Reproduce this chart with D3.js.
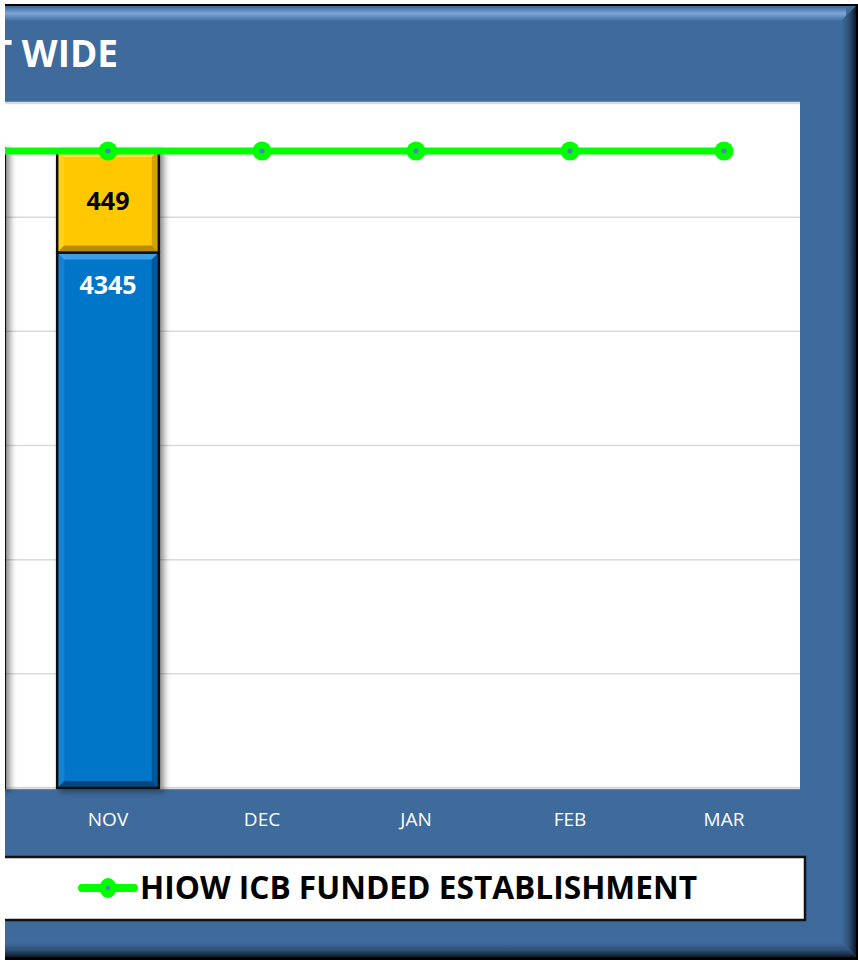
<!DOCTYPE html>
<html>
<head>
<meta charset="utf-8">
<script src="https://cdn.jsdelivr.net/npm/d3@7"></script>
<style>
  body { margin: 0; background: #fff; }
  svg { display: block; }
</style>
</head>
<body>
<div id="chart"></div>
<script>
// Chart data (only the right part of the chart is in view)
const months = ["APR", "MAY", "JUN", "JUL", "AUG", "SEP", "OCT", "NOV", "DEC", "JAN", "FEB", "MAR"];
// blue segment (bottom) and yellow segment (top) of the stacked bars
const bluePart   = [null, null, null, null, null, null, 4330, 4345, null, null, null, null];
const yellowPart = [null, null, null, null, null, null, 470, 449, null, null, null, null];
// green line: funded establishment
const establishment = [4790, 4790, 4790, 4790, 4790, 4790, 4790, 4790, 4790, 4790, 4790, 4790];
const yTicks = [2000, 2500, 3000, 3500, 4000, 4500, 5000];
const legendLabel = "HIOW ICB FUNDED ESTABLISHMENT";
const titleText = "TRUST WIDE";

const width = 858, height = 963;
const plot = { left: -1047, right: 801, top: 103, bottom: 788 };
const viewLeft = 5; // the picture is cut off left of this

const svg = d3.select("#chart").append("svg")
  .attr("width", width)
  .attr("height", height);

const defs = svg.append("defs");

// gradients for the bevelled frame
function linGrad(id, x1, y1, x2, y2, stops) {
  const g = defs.append("linearGradient").attr("id", id)
    .attr("x1", x1).attr("y1", y1).attr("x2", x2).attr("y2", y2);
  stops.forEach(s => g.append("stop").attr("offset", s[0]).attr("stop-color", s[1]));
}
linGrad("topEdge", 0, 0, 0, 1, [[0, "#3e6a9c"], [0.45, "#7aa6d8"], [1, "#3e6a9c"]]);
linGrad("rightEdge", 0, 0, 1, 0, [[0, "#3e6a9c"], [0.5, "#2e5078"], [1, "#0f1a28"]]);
linGrad("bottomEdge", 0, 0, 0, 1, [[0, "#3e6a9c"], [0.5, "#2e5078"], [1, "#0f1a28"]]);

const shadow = defs.append("filter").attr("id", "barShadow")
  .attr("x", "-20%").attr("y", "-5%").attr("width", "150%").attr("height", "115%");
shadow.append("feDropShadow").attr("dx", 4).attr("dy", 2).attr("stdDeviation", 3)
  .attr("flood-color", "#000").attr("flood-opacity", 0.45);

defs.append("clipPath").attr("id", "clipLeft")
  .append("rect").attr("x", viewLeft).attr("y", 0).attr("width", width).attr("height", height);

const root = svg.append("g").attr("clip-path", "url(#clipLeft)");

// Outer frame
root.append("rect").attr("x", 0).attr("y", 4).attr("width", 858).attr("height", 956).attr("fill", "#000");
root.append("rect").attr("x", 0).attr("y", 6).attr("width", 856).attr("height", 951).attr("fill", "#3e6a9c");
root.append("rect").attr("x", 0).attr("y", 7).attr("width", 846).attr("height", 14).attr("fill", "url(#topEdge)");
root.append("polygon").attr("points", "842,20 856,6 856,957 842,943").attr("fill", "url(#rightEdge)");
root.append("polygon").attr("points", "0,943 842,943 856,957 0,957").attr("fill", "url(#bottomEdge)");

// Title (its left part is cut off, as in the picture)
root.append("text")
  .attr("x", 118).attr("y", 67)
  .attr("text-anchor", "end")
  .attr("fill", "#fff")
  .style("font-family", "'Open Sans', sans-serif")
  .style("font-weight", "bold")
  .style("font-size", "37px")
  .text(titleText);

// Scales
const x = d3.scaleBand().domain(months).range([plot.left, plot.right]).padding(0);
const y = d3.scaleLinear().domain([yTicks[0], yTicks[yTicks.length - 1]]).range([plot.bottom, plot.top]);
const barW = x.bandwidth() * 0.66;
const cx = m => x(m) + x.bandwidth() / 2;
const inView = m => cx(m) > viewLeft;

// Plot area
root.append("rect")
  .attr("x", plot.left).attr("y", plot.top)
  .attr("width", plot.right - plot.left - 1).attr("height", plot.bottom - plot.top)
  .attr("fill", "#fff");

// Gridlines
root.append("g")
  .selectAll("line")
  .data(yTicks)
  .join("line")
    .attr("x1", plot.left).attr("x2", plot.right - 1)
    .attr("y1", d => y(d)).attr("y2", d => y(d))
    .attr("stroke", "#d9d9d9")
    .attr("stroke-width", d => (d === yTicks[0] || d === yTicks[yTicks.length - 1]) ? 2.5 : 1.5);

// Stacked bars with a bevel look
const stacks = months.map((m, i) => ({ m, blue: bluePart[i], yellow: yellowPart[i] }))
  .filter(d => d.blue != null);

function bevelBar(g, x0, yTop, yBot, base, light, dark) {
  const w = barW, b = 7, h = yBot - yTop;
  g.append("rect").attr("x", x0).attr("y", yTop).attr("width", w).attr("height", h)
    .attr("fill", base);
  g.append("polygon")
    .attr("points", `${x0},${yTop} ${x0 + w},${yTop} ${x0 + w - b},${yTop + b} ${x0 + b},${yTop + b}`)
    .attr("fill", light);
  g.append("polygon")
    .attr("points", `${x0},${yBot} ${x0 + w},${yBot} ${x0 + w - b},${yBot - b} ${x0 + b},${yBot - b}`)
    .attr("fill", dark);
  g.append("polygon")
    .attr("points", `${x0 + w},${yTop} ${x0 + w},${yBot} ${x0 + w - b},${yBot - b} ${x0 + w - b},${yTop + b}`)
    .attr("fill", dark).attr("opacity", 0.6);
  g.append("polygon")
    .attr("points", `${x0},${yTop} ${x0},${yBot} ${x0 + b},${yBot - b} ${x0 + b},${yTop + b}`)
    .attr("fill", light).attr("opacity", 0.35);
  g.append("rect").attr("x", x0).attr("y", yTop).attr("width", w).attr("height", h)
    .attr("fill", "none").attr("stroke", "#111").attr("stroke-width", 2.5);
}

stacks.forEach(d => {
  const g = root.append("g").attr("filter", "url(#barShadow)");
  const x0 = cx(d.m) - barW / 2;
  const yMid = y(d.blue);
  const yTop = y(d.blue + d.yellow);
  bevelBar(g, x0, yMid, plot.bottom, "#0676c8", "#3c9ee6", "#03467e");
  bevelBar(g, x0, yTop, yMid, "#ffc800", "#ffe14d", "#b88c00");

  // data labels only where the bar centre is in view
  if (!inView(d.m)) return;
  root.append("text")
    .attr("x", cx(d.m)).attr("y", (yTop + yMid) / 2 + 9)
    .attr("text-anchor", "middle").attr("fill", "#000")
    .style("font-family", "'Open Sans', sans-serif").style("font-weight", "bold").style("font-size", "25px")
    .text(d.yellow);
  root.append("text")
    .attr("x", cx(d.m)).attr("y", yMid + 41)
    .attr("text-anchor", "middle").attr("fill", "#fff")
    .style("font-family", "'Open Sans', sans-serif").style("font-weight", "bold").style("font-size", "25px")
    .text(d.blue);
});

// Establishment line
const estData = months.map((m, i) => ({ m, v: establishment[i] }));
const line = d3.line().x(d => cx(d.m)).y(d => y(d.v));
root.append("path")
  .datum(estData)
  .attr("d", line)
  .attr("fill", "none")
  .attr("stroke", "#00ff00")
  .attr("stroke-width", 7);
root.append("g")
  .selectAll("circle")
  .data(estData)
  .join("circle")
    .attr("cx", d => cx(d.m)).attr("cy", d => y(d.v))
    .attr("r", 9.5).attr("fill", "#00ff00");
root.append("g")
  .selectAll("circle")
  .data(estData)
  .join("circle")
    .attr("cx", d => cx(d.m)).attr("cy", d => y(d.v))
    .attr("r", 2.5).attr("fill", "#4f81bd");

// X axis labels (only the months in view)
const xAxis = d3.axisBottom(x).tickSize(0).tickPadding(0)
  .tickValues(months.filter(inView));
const gx = root.append("g")
  .attr("transform", `translate(0,${plot.bottom + 38})`)
  .call(xAxis);
gx.select(".domain").remove();
gx.selectAll("text")
  .attr("fill", "#fff")
  .attr("dy", 0)
  .style("font-family", "'Open Sans', sans-serif")
  .style("font-size", "19px");

// Legend
root.append("rect")
  .attr("x", -300).attr("y", 857).attr("width", 1105).attr("height", 63)
  .attr("fill", "#fff").attr("stroke", "#111").attr("stroke-width", 2.5);
root.append("line")
  .attr("x1", 82).attr("x2", 134).attr("y1", 888).attr("y2", 888)
  .attr("stroke", "#00ff00").attr("stroke-width", 8).attr("stroke-linecap", "round");
root.append("ellipse")
  .attr("cx", 108).attr("cy", 888).attr("rx", 8.5).attr("ry", 10)
  .attr("fill", "#00ff00");
root.append("circle")
  .attr("cx", 108).attr("cy", 888).attr("r", 2.2).attr("fill", "#4f81bd");
root.append("text")
  .attr("x", 140).attr("y", 899)
  .attr("textLength", 557).attr("lengthAdjust", "spacingAndGlyphs")
  .attr("fill", "#000")
  .style("font-family", "'Open Sans', sans-serif").style("font-weight", "bold").style("font-size", "32px")
  .text(legendLabel);
</script>
</body>
</html>
